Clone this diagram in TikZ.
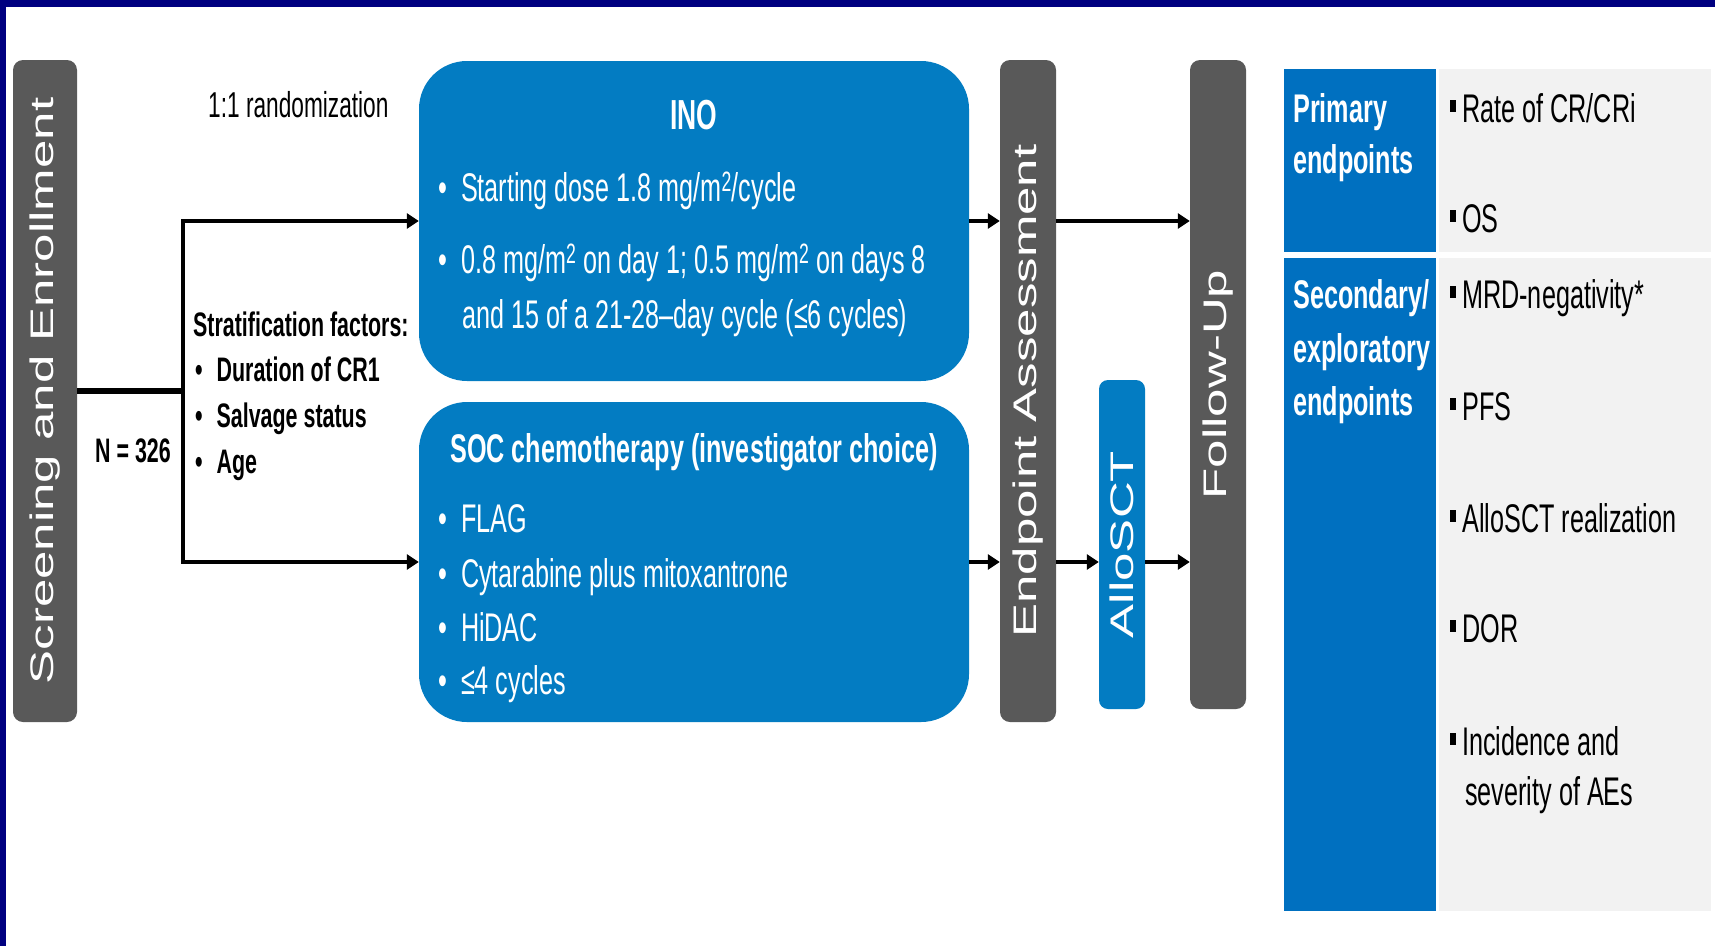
\documentclass[tikz,border=0pt]{standalone}
\usepackage{fontspec}
\setmainfont{Liberation Sans}[FakeStretch=0.63]
\newfontfamily\uprightsans{Liberation Sans}
\usepackage{graphicx}
\usetikzlibrary{arrows.meta,positioning}
\definecolor{frameblue}{RGB}{0,0,128}
\definecolor{boxgray}{RGB}{89,89,89}
\definecolor{armblue}{RGB}{3,124,194}
\definecolor{tabblue}{RGB}{0,112,192}
\definecolor{tabgray}{RGB}{242,242,242}
\newcommand{\sidetext}[1]{\rotatebox{90}{\scalebox{1}[0.64]{\uprightsans\fontsize{51}{60}\selectfont #1}}}
\newcommand{\sqbullet}{\rule[10pt]{6pt}{12pt}\hspace{6pt}}
\tikzset{
    phase/.style={rectangle, rounded corners=10pt, fill=boxgray, text=white, inner sep=0pt},
    arm/.style={rectangle, rounded corners=48pt, fill=armblue, inner sep=0pt},
    cell/.style={rectangle, inner sep=0pt},
    txt/.style={anchor=base west, inner sep=0pt, font=\fontsize{36}{43}\selectfont},
    btxt/.style={txt, font=\bfseries\fontsize{34}{40}\selectfont},
    wtxt/.style={anchor=base west, inner sep=0pt, text=white, font=\fontsize{40}{48}\selectfont},
    tbl/.style={anchor=base west, inner sep=0pt, font=\fontsize{40}{48}\selectfont},
    thead/.style={tbl, text=white, font=\bfseries\fontsize{40}{48}\selectfont},
    flow/.style={line width=4.5pt, -{Triangle[length=12pt,width=15pt]}}
}

\begin{document}
\begin{tikzpicture}[x=1pt, y=-1pt]
    \useasboundingbox (0,0) rectangle (1715,946);
    % Frame
    \fill[frameblue] (0,0) rectangle (1715,7);
    \fill[frameblue] (0,0) rectangle (6,946);

    % Phases
    \node[phase, minimum width=64pt, minimum height=662pt] (scr) at (45,391) {\sidetext{Screening and Enrollment}};
    \node[phase, minimum width=56pt, minimum height=662pt] (ep) at (1028,391) {\sidetext{Endpoint Assessment}};
    \node[phase, rounded corners=9pt, fill=armblue, minimum width=46pt, minimum height=329pt] (allo) at (1122,544.5) {\sidetext{AlloSCT}};
    \node[phase, minimum width=56pt, minimum height=649pt] (fu) at (1218,384.5) {\sidetext{Follow-Up}};

    % Arms
    \node[arm, minimum width=550pt, minimum height=320pt] (ino) at (694,221) {};
    \node[arm, minimum width=550pt, minimum height=320pt] (soc) at (694,562) {};

    \node[wtxt, anchor=base, font=\bfseries\fontsize{42}{48}\selectfont] (inotitle) at (694,129) {INO};
    \node[wtxt] (ino1) at (438,201) {•\hspace{14pt}Starting dose 1.8 mg/m\textsuperscript{2}/cycle};
    \node[wtxt] (ino2) at (438,273) {•\hspace{14pt}0.8 mg/m\textsuperscript{2} on day 1; 0.5 mg/m\textsuperscript{2} on days 8};
    \node[wtxt] (ino3) at (462,328) {and 15 of a 21-28–day cycle (≤6 cycles)};

    \node[wtxt, anchor=base, font=\bfseries\fontsize{40}{48}\selectfont] (soctitle) at (694,462) {SOC chemotherapy (investigator choice)};
    \foreach \y/\t [count=\i] in {532/FLAG, 587/Cytarabine plus mitoxantrone, 641/HiDAC, 694/≤4 cycles}
        \node[wtxt] (socitem\i) at (438,\y) {•\hspace{14pt}\t};

    % Randomization labels
    \node[txt] (rand) at (208,117) {1:1 randomization};
    \node[btxt] (strat) at (193,336) {Stratification factors:};
    \foreach \y/\t [count=\i] in {381/Duration of CR1, 427/Salvage status, 473/Age}
        \node[btxt] (factor\i) at (195,\y) {•\hspace{14pt}\t};
    \node[btxt] (npat) at (95,462) {N = 326};

    % Endpoint table
    \node[cell, fill=tabblue, minimum width=152pt, minimum height=183pt] (prim) at (1360,160.5) {};
    \node[cell, fill=tabgray, minimum width=272pt, minimum height=183pt] (primlist) at (1575,160.5) {};
    \node[cell, fill=tabblue, minimum width=152pt, minimum height=653pt] (sec) at (1360,584.5) {};
    \node[cell, fill=tabgray, minimum width=272pt, minimum height=653pt] (seclist) at (1575,584.5) {};

    \node[thead] (prim1) at (1293,122) {Primary};
    \node[thead] (prim2) at (1293,173) {endpoints};
    \node[thead] (sec1) at (1293,308) {Secondary/};
    \node[thead] (sec2) at (1293,362) {exploratory};
    \node[thead] (sec3) at (1293,415) {endpoints};

    \node[tbl] (crcri) at (1450,122) {\sqbullet Rate of CR/CRi};
    \node[tbl] (os) at (1450,232) {\sqbullet OS};
    \node[tbl] (mrd) at (1450,308) {\sqbullet MRD-negativity*};
    \node[tbl] (pfs) at (1450,420) {\sqbullet PFS};
    \node[tbl] (allor) at (1450,532) {\sqbullet AlloSCT realization};
    \node[tbl] (dor) at (1450,642) {\sqbullet DOR};
    \node[tbl] (ae1) at (1450,755) {\sqbullet Incidence and};
    \node[tbl] (ae2) at (1465,805) {severity of AEs};

    % Edges
    \coordinate (split) at (183,391);
    \draw[line width=6pt] (scr.east) -- (split);
    \draw[flow] (split) |- (ino.west);
    \draw[flow] (split) |- (soc.west);
    \draw[flow] (ino.east) -- (ino.east -| ep.west);
    \draw[flow] (ino.east -| ep.east) -- (ino.east -| fu.west);
    \draw[flow] (soc.east) -- (soc.east -| ep.west);
    \draw[flow] (soc.east -| ep.east) -- (soc.east -| allo.west);
    \draw[flow] (soc.east -| allo.east) -- (soc.east -| fu.west);
\end{tikzpicture}
\end{document}
